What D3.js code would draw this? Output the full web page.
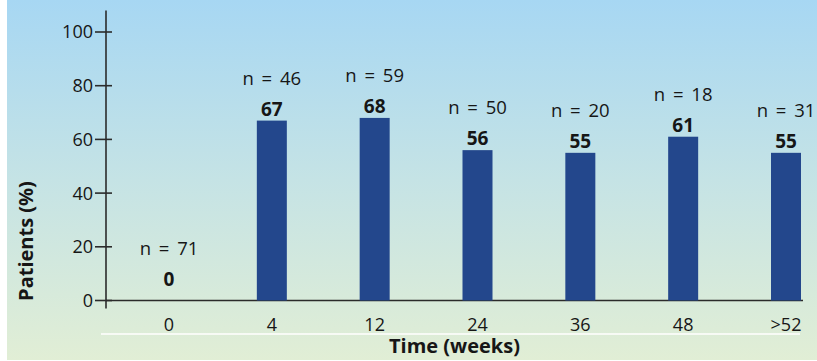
<!DOCTYPE html>
<html>
<head>
<meta charset="utf-8">
<script src="https://cdn.jsdelivr.net/npm/d3@7"></script>
<style>
  html, body { margin: 0; padding: 0; background: #ffffff; }
  svg { display: block; }
  text { font-family: "Open Sans", Roboto, sans-serif; fill: #161616; }
</style>
</head>
<body>
<svg id="chart" width="817" height="361"></svg>
<script>
// Response rate by follow-up time
const categories = ["0", "4", "12", "24", "36", "48", ">52"];
const patientPct = [0, 67, 68, 56, 55, 61, 55];
const sampleSizes = [71, 46, 59, 50, 20, 18, 31];
const yTicks = [0, 20, 40, 60, 80, 100];

const svg = d3.select("#chart");

// Panel background: blue at the top fading to pale green at the bottom
const defs = svg.append("defs");
const grad = defs.append("linearGradient")
  .attr("id", "bg").attr("x1", 0).attr("y1", 0).attr("x2", 0).attr("y2", 1);
grad.append("stop").attr("offset", "0%").attr("stop-color", "#a7d7f3");
grad.append("stop").attr("offset", "50%").attr("stop-color", "#c5e3e5");
grad.append("stop").attr("offset", "100%").attr("stop-color", "#e1eed5");
svg.append("rect").attr("x", 7).attr("y", 0).attr("width", 810).attr("height", 360)
  .attr("fill", "url(#bg)");

const x = d3.scalePoint().domain(categories).range([169, 786]);
const y = d3.scaleLinear().domain([0, 100]).range([300.5, 32]);
const barW = 30;
const axisX = 106;

// Y axis
svg.append("line")
  .attr("x1", axisX).attr("x2", axisX)
  .attr("y1", y(108)).attr("y2", y(0) + 8)
  .attr("stroke", "#2b2b2b").attr("stroke-width", 1.6);
const yt = svg.append("g").selectAll("g").data(yTicks).join("g")
  .attr("transform", d => `translate(0,${y(d)})`);
yt.append("line").attr("x1", axisX - 11).attr("x2", axisX + 6)
  .attr("stroke", "#2b2b2b").attr("stroke-width", 1.6);
yt.append("text").attr("x", axisX - 13).attr("dy", "0.36em")
  .attr("text-anchor", "end").attr("font-size", 18)
  .text(d => d);

// Baseline and the white rule under the category labels
svg.append("line")
  .attr("x1", axisX).attr("x2", 803).attr("y1", y(0)).attr("y2", y(0))
  .attr("stroke", "#2b2b2b").attr("stroke-width", 1.6);
svg.append("line")
  .attr("x1", 101).attr("x2", 800).attr("y1", 334).attr("y2", 334)
  .attr("stroke", "#ffffff").attr("stroke-width", 1.5);

// Bars
svg.append("g").selectAll("rect").data(patientPct).join("rect")
  .attr("x", (d, i) => x(categories[i]) - barW / 2)
  .attr("y", d => y(d))
  .attr("width", barW)
  .attr("height", d => y(0) - y(d))
  .attr("fill", "#23478c");

// Value and sample-size labels above each bar
const labelBase = d => Math.min(y(d), y(0) - 10) - 5;
svg.append("g").selectAll("text").data(patientPct).join("text")
  .attr("x", (d, i) => x(categories[i]))
  .attr("y", d => labelBase(d))
  .attr("text-anchor", "middle").attr("font-size", 19).attr("font-weight", "bold")
  .text(d => d);
svg.append("g").selectAll("text").data(sampleSizes).join("text")
  .attr("x", (d, i) => x(categories[i]))
  .attr("y", (d, i) => labelBase(patientPct[i]) - 31)
  .attr("text-anchor", "middle").attr("font-size", 18.5)
  .attr("word-spacing", 3)
  .text(d => `n = ${d}`);

// Category labels
svg.append("g").selectAll("text").data(categories).join("text")
  .attr("x", d => x(d)).attr("y", 331)
  .attr("text-anchor", "middle").attr("font-size", 18)
  .text(d => d);

// Axis titles
svg.append("text")
  .attr("x", (axisX + 803) / 2).attr("y", 352.5)
  .attr("text-anchor", "middle").attr("font-size", 20).attr("font-weight", "bold")
  .text("Time (weeks)");
svg.append("text")
  .attr("transform", "translate(33,241) rotate(-90)")
  .attr("text-anchor", "middle").attr("font-size", 20).attr("font-weight", "bold")
  .text("Patients (%)");
</script>
</body>
</html>
